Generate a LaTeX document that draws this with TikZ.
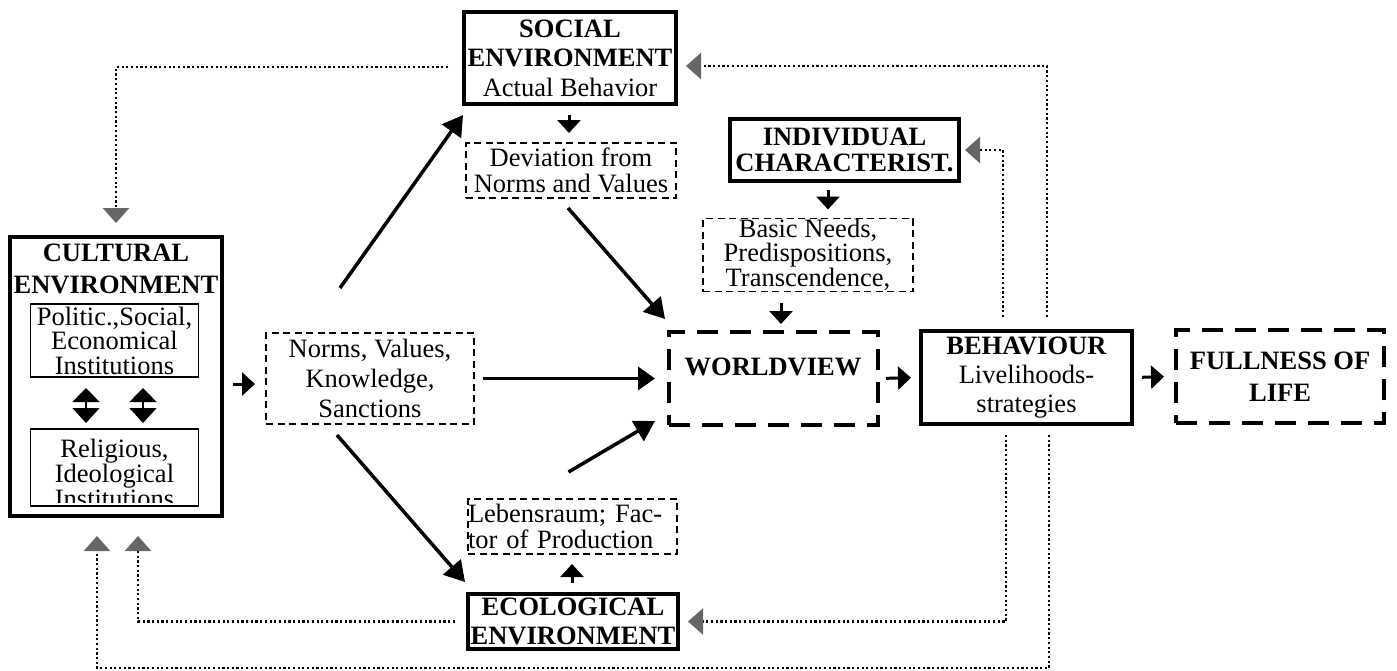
\documentclass[tikz,border=0pt]{standalone}
\usepackage{fontspec}
\setmainfont{Liberation Serif}
\usetikzlibrary{arrows.meta,calc}
\definecolor{tipgray}{HTML}{666666}
\begin{document}
\begin{tikzpicture}[x=1pt,y=-1pt,
  every node/.style={inner sep=0pt, outer sep=0pt, align=center},
  txt/.style={font=\fontsize{26.5}{#1}\selectfont},
  solidbox/.style={draw, line width=4pt},
  thinbox/.style={draw, line width=1.8pt},
  thindash/.style={draw, line width=1.8pt, dash pattern=on 7pt off 4.5pt},
  thickdash/.style={draw, line width=4pt, dash pattern=on 21pt off 12pt},
  bigarr/.style={line width=3.5pt, -{Triangle[length=20pt,width=23pt]}},
  shortarr/.style={line width=3pt, -{Triangle[length=13pt,width=23pt]}},
  dblarr/.style={line width=1.5pt, {Triangle[length=14pt,width=27pt]}-{Triangle[length=15pt,width=27pt]}},
  dotarr/.style={line width=2.4pt, dash pattern=on 2.2pt off 2.5pt, -{Triangle[length=15pt,width=26pt,color=tipgray]}},
]
\useasboundingbox (0,0) rectangle (1397,670);

% boxes
\node[solidbox, minimum width=212pt, minimum height=92pt, txt=29.5] (social) at (570,58) {\textbf{SOCIAL}\\\textbf{ENVIRONMENT}\\Actual Behavior};
\node[thindash, minimum width=210pt, minimum height=55pt, txt=26] (dev) at (571,170.5) {Deviation from\\Norms and Values};
\node[solidbox, minimum width=229pt, minimum height=62pt, txt=26.7] (ind) at (844.5,150) {\textbf{INDIVIDUAL}\\\textbf{CHARACTERIST.}};
\node[thindash, minimum width=210pt, minimum height=73pt, txt=24] (basic) at (808,255) {Basic Needs,\\Predispositions,\\Transcendence,};
\node[thickdash, minimum width=209pt, minimum height=93pt] (wv) at (773.5,378.5) {};
\node[txt=29.5] (wvtext) at (773,367) {\textbf{WORLDVIEW}};
\node[solidbox, minimum width=211pt, minimum height=93pt, txt=29] (beh) at (1026.5,377.5) {\textbf{BEHAVIOUR}\\Livelihoods-\\strategies};
\node[thickdash, minimum width=208pt, minimum height=93pt, txt=32] (full) at (1280,376.5) {\textbf{FULLNESS OF}\\\textbf{LIFE}};

\node[solidbox, minimum width=212pt, minimum height=279pt] (cult) at (116,376.5) {};
\node[txt=31.7] (culttext) at (116,269) {\textbf{CULTURAL}\\\textbf{ENVIRONMENT}};
\node[thinbox, minimum width=168pt, minimum height=73pt, txt=24.5] (inst1) at (114.5,340.5) {Politic.,Social,\\Economical\\Institutions};
\node[thinbox, minimum width=168pt, minimum height=77pt] (inst2) at (114.5,467.5) {};
\begin{scope}
  \clip (31,430) rectangle (199,502);
  \node[txt=25] (inst2text) at (114.5,473) {Religious,\\Ideological\\Institutions};
\end{scope}

\node[thindash, minimum width=208pt, minimum height=91pt, txt=30] (norms) at (370,378.5) {Norms, Values,\\Knowledge,\\Sanctions};
\node[thindash, minimum height=55pt, text width=209pt, align=left, txt=26] (leb) at (572.5,526.5) {Lebensraum; Fac-\\tor of Production};
\node[solidbox, minimum width=210pt, minimum height=55pt, txt=29] (ecol) at (573,621.5) {\textbf{ECOLOGICAL}\\\textbf{ENVIRONMENT}};

\coordinate (xa) at (828,0);
\coordinate (xb) at (781,0);

% short arrows
\draw[shortarr, shorten <=11pt, shorten >=11pt] ([yshift=-7.5pt]cult.east) -- ([yshift=-5.5pt]norms.west);
\draw[shortarr, shorten <=11pt, shorten >=10pt] ([xshift=-1pt]social.south) -- ([xshift=-2pt]dev.north);
\draw[shortarr, shorten <=9pt, shorten >=9pt] (ind.south -| xa) -- (basic.north -| xa);
\draw[shortarr, shorten <=11pt, shorten >=8pt] (basic.south -| xb) -- (wv.north -| xb);
\draw[shortarr, shorten <=8pt, shorten >=10pt] (wv.east) -- (beh.west);
\draw[shortarr, shorten <=10pt, shorten >=12pt] (beh.east) -- (full.west);
\draw[shortarr, shorten <=11pt, shorten >=10pt] ([xshift=-1pt]ecol.north) -- ([xshift=-0.5pt]leb.south);

% double arrows in cultural environment
\draw[dblarr, shorten <=11pt, shorten >=6pt] ([xshift=-28.5pt]inst1.south) -- ([xshift=-28.5pt]inst2.north);
\draw[dblarr, shorten <=11pt, shorten >=6pt] ([xshift=28.5pt]inst1.south) -- ([xshift=28.5pt]inst2.north);

% big arrows
\draw[bigarr] ($(norms.north)+(-30,-45)$) -- ($(social.south west)+(-1,11)$);
\draw[bigarr] ($(dev.south)+(-3,10)$) -- ($(wv.north west)+(-4,-13)$);
\draw[line width=3.5pt, -{Triangle[length=17pt,width=23pt]}, shorten <=9pt, shorten >=14pt] (norms.east) -- (wv.west);
\draw[bigarr] ($(norms.south)+(-33,11)$) -- ($(ecol.north west)+(-3,-12)$);
\draw[bigarr] ($(leb.north)+(-4,-27)$) -- ($(wv.south west)+(-14,-4)$);

% dotted feedback lines
\draw[dotarr, shorten <=16pt, shorten >=14pt] ([yshift=-9pt]social.west) -| (cult.north);
\draw[dotarr, shorten <=14pt, shorten >=10pt] ([xshift=20.5pt]beh.north) |- ([yshift=-8pt]social.east);
\draw[dotarr, shorten <=14pt, shorten >=6pt] ([xshift=-23.5pt]beh.north) |- (ind.east);
\draw[dotarr, shorten <=11pt, shorten >=10pt] ([xshift=-20.5pt]beh.south) |- (ecol.east);
\draw[dotarr, shorten <=11pt, shorten >=20pt] ([xshift=22.5pt]beh.south) -- ++(0,244) -| ([xshift=-19pt]cult.south);
\draw[dotarr, shorten <=13pt, shorten >=20pt] (ecol.west) -| ([xshift=22pt]cult.south);
\end{tikzpicture}
\end{document}
